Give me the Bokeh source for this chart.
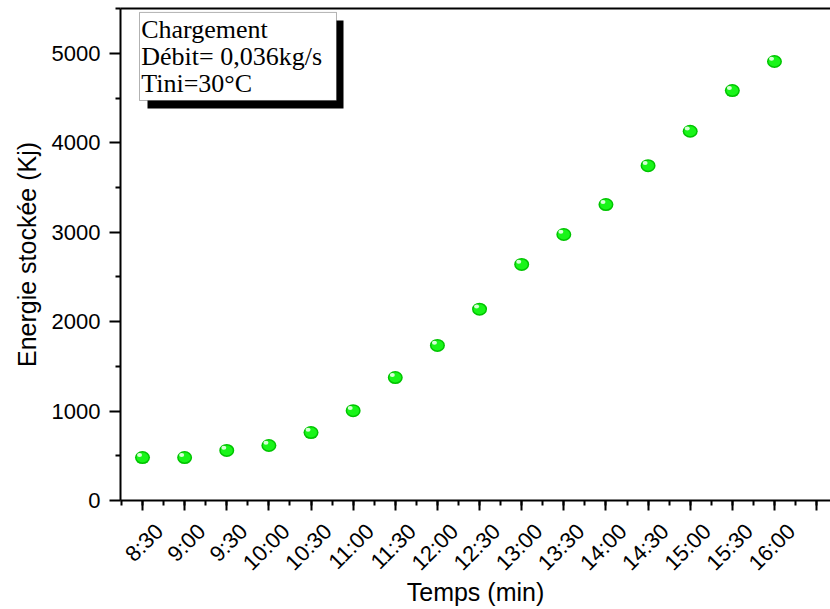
import numpy as np
from bokeh.plotting import figure
from bokeh.models import (Range1d, LinearAxis, FixedTicker, CustomJSTickFormatter,
                          BoxAnnotation, Label, ColumnDataSource)
from bokeh.transform import dodge
from bokeh.embed import file_html
from bokeh.resources import INLINE

# ---------------- data ----------------
time_labels = ["8:30", "9:00", "9:30", "10:00", "10:30", "11:00", "11:30", "12:00",
               "12:30", "13:00", "13:30", "14:00", "14:30", "15:00", "15:30", "16:00", "16:30"]
energy = [480, 480, 560, 615, 760, 1005, 1375, 1735, 2140, 2640, 2975, 3310,
          3745, 4130, 4585, 4910]
legend_lines = ["Chargement", "Débit= 0,036kg/s", "Tini=30°C"]
y_ticks = [0, 1000, 2000, 3000, 4000, 5000]

x_idx = list(range(len(energy)))
src = ColumnDataSource(dict(x=x_idx, y=energy))

FONT = "Liberation Sans"

p = figure(width=830, height=609, output_backend="svg", toolbar_location=None,
           x_range=Range1d(-0.522, 16.33), y_range=Range1d(0, 5503),
           min_border_left=120, min_border_right=0, min_border_top=8,
           min_border_bottom=109)
p.outline_line_color = None
p.xgrid.visible = False
p.ygrid.visible = False
p.background_fill_color = "white"
p.border_fill_color = "white"

# ---- x axis: line + ticks (labels empty) ----
xa = p.xaxis[0]
xa.ticker = FixedTicker(ticks=list(range(len(time_labels))),
                        minor_ticks=[i / 2 - 0.5 for i in range(2 * len(time_labels) + 2)])
xa.formatter = CustomJSTickFormatter(code="return '';")
xa.major_label_text_font_size = "1px"
xa.major_label_standoff = 0
xa.major_tick_out = 10
xa.major_tick_in = 0
xa.minor_tick_out = 5
xa.minor_tick_in = 0
xa.axis_line_width = 2
xa.major_tick_line_width = 2
xa.minor_tick_line_width = 2
xa.axis_line_color = "black"
xa.major_tick_line_color = "black"
xa.minor_tick_line_color = "black"

# ---- x axis labels (rotated, shifted like the original) ----
shift = 0.40
lab_ax = LinearAxis(
    ticker=FixedTicker(ticks=[i + shift for i in range(len(time_labels))], minor_ticks=[]),
    formatter=CustomJSTickFormatter(args=dict(labels=time_labels, shift=shift),
                                    code="const i = Math.round(tick - shift); return labels[i] || '';"),
    axis_line_color=None, major_tick_line_color=None, minor_tick_line_color=None,
    major_tick_out=0, major_tick_in=0,
    major_label_orientation=np.pi / 4,
    major_label_text_font=FONT, major_label_text_font_size="22px",
    major_label_text_color="black", major_label_standoff=17,
    axis_label="Temps (min)", axis_label_text_font=FONT,
    axis_label_text_font_size="25px", axis_label_text_font_style="normal",
    axis_label_text_color="black", axis_label_standoff=-9)
p.add_layout(lab_ax, "below")

# ---- y axis ----
ya = p.yaxis[0]
ya.ticker = FixedTicker(ticks=y_ticks, minor_ticks=[t + 500 for t in y_ticks])
ya.major_tick_out = 11
ya.major_tick_in = 0
ya.minor_tick_out = 5
ya.minor_tick_in = 0
ya.axis_line_width = 2
ya.major_tick_line_width = 2
ya.minor_tick_line_width = 2
ya.axis_line_color = "black"
ya.major_tick_line_color = "black"
ya.minor_tick_line_color = "black"
ya.major_label_standoff = 9
ya.major_label_text_font = FONT
ya.major_label_text_font_size = "22px"
ya.major_label_text_color = "black"
ya.axis_label = "Energie stockée (Kj)"
ya.axis_label_text_font = FONT
ya.axis_label_text_font_size = "25px"
ya.axis_label_text_font_style = "normal"
ya.axis_label_text_color = "black"
ya.axis_label_standoff = 8

# ---- top frame line ----
top_ax = LinearAxis(ticker=FixedTicker(ticks=[], minor_ticks=[]),
                    major_label_standoff=0,
                    major_tick_out=0, major_tick_in=0, minor_tick_out=0, minor_tick_in=0,
                    axis_line_width=2, axis_line_color="black")
p.add_layout(top_ax, "above")

# ---- markers (green spheres) ----
p.ellipse(x="x", y="y", width=15, height=13, width_units="screen", height_units="screen",
          source=src, fill_color="#00c400", line_color=None)
p.ellipse(x="x", y="y", width=12, height=10, width_units="screen", height_units="screen",
          source=src, fill_color="#19f519", line_color=None)
p.ellipse(x=dodge("x", -0.07, range=p.x_range), y=dodge("y", 30, range=p.y_range),
          width=5, height=4, width_units="screen", height_units="screen",
          source=src, fill_color="#d8ffd8", line_color=None)

# ---- legend box with shadow ----
p.add_layout(BoxAnnotation(left=0.119, right=4.771, top=5369, bottom=4385,
                           fill_color="black", fill_alpha=1.0, line_color=None))
p.add_layout(BoxAnnotation(left=-0.071, right=4.605, top=5459, bottom=4474,
                           fill_color="white", fill_alpha=1.0, line_color="black",
                           line_width=1))
for txt, yy in zip(legend_lines, [5272, 4962, 4660]):
    p.add_layout(Label(x=-0.03, y=yy, text=txt, text_font="Liberation Serif",
                       text_font_size="26px", text_color="black",
                       text_baseline="alphabetic", text_align="left"))

open("out.html", "w").write(file_html(p, INLINE))
